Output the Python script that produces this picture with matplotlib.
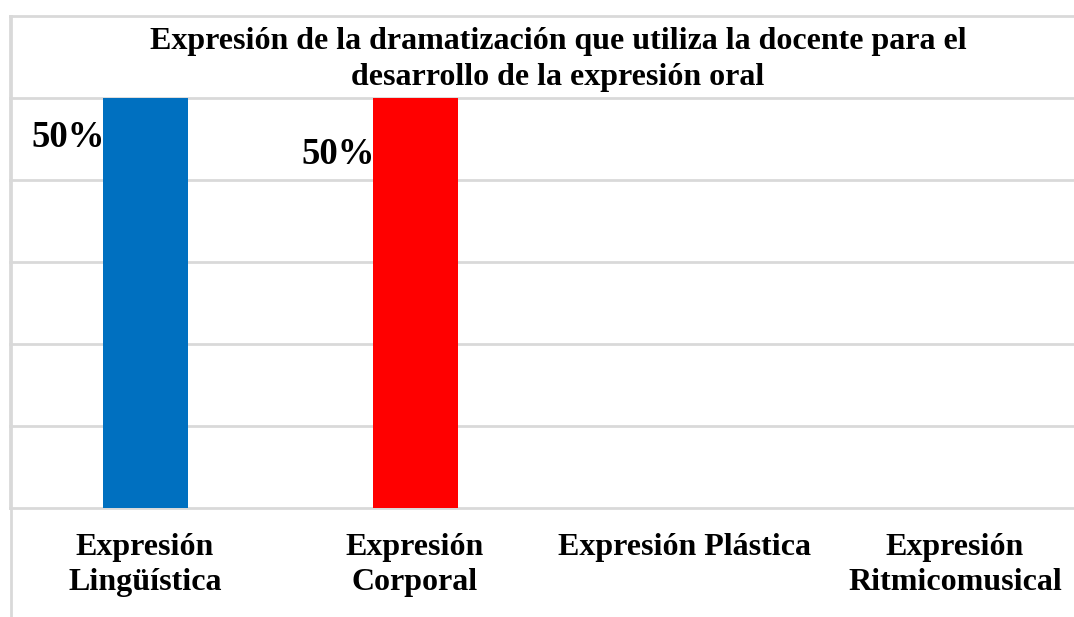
import matplotlib
matplotlib.use("Agg")
import matplotlib.pyplot as plt
from matplotlib.lines import Line2D

categorias = ["Expresión\nLingüística", "Expresión\nCorporal",
              "Expresión Plástica", "Expresión\nRitmicomusical"]
valores = [0.5, 0.5, 0.0, 0.0]
etiquetas = ["50%", "50%", "", ""]
etiqueta_y = [0.452, 0.431, 0, 0]
colores = ["#0070C0", "#FF0000", "#A5A5A5", "#FFC000"]

titulo = ("Expresión de la dramatización que utiliza la docente para el\n"
          "desarrollo de la expresión oral")

plt.rcParams['font.family'] = ['Liberation Serif', 'DejaVu Serif']
plt.rcParams['font.weight'] = 'bold'

W, H = 1074, 617
fig = plt.figure(figsize=(W / 100, H / 100), dpi=100)
# axes run past the right edge, as in the cropped original
ax = fig.add_axes([10 / W, (H - 508) / H, 1080 / W, (508 - 16) / H])

ancho = 85 / 270
x = list(range(len(categorias)))
ax.bar(x, valores, width=ancho, color=colores, zorder=3)

for i, (txt, yy) in enumerate(zip(etiquetas, etiqueta_y)):
    if txt:
        ax.text(i - ancho / 2 + 0.008, yy, txt, ha='right', va='center',
                fontsize=26.5, fontweight='bold', zorder=4)

ax.set_xlim(-0.5, 3.5)
ax.set_ylim(0, 0.6)
ax.set_yticks([0.1 * k for k in range(7)])
ax.yaxis.grid(True, color='#D9D9D9', linewidth=2, zorder=0)
for gl in ax.get_ygridlines():
    gl.set_clip_on(False)
ax.tick_params(axis='y', left=False, labelleft=False)
ax.tick_params(axis='x', length=0, pad=18)
ax.set_xticks(x)
ax.set_xticklabels(categorias, fontsize=23, fontweight='bold',
                   linespacing=1.28, va='top')
for s in ['top', 'right', 'bottom']:
    ax.spines[s].set_visible(False)
ax.spines['left'].set_color('#D9D9D9')
ax.spines['left'].set_linewidth(2)

# chart border line on the left, running to the bottom of the image
fig.add_artist(Line2D([10.5 / W, 10.5 / W], [0, 1 - 16 / H],
                      color='#D9D9D9', linewidth=2))

fig.text(558 / W, 1 - 59.5 / H, titulo, ha='center', va='center',
         fontsize=23, fontweight='bold', linespacing=1.28)

fig.savefig("out.png", dpi=100)
